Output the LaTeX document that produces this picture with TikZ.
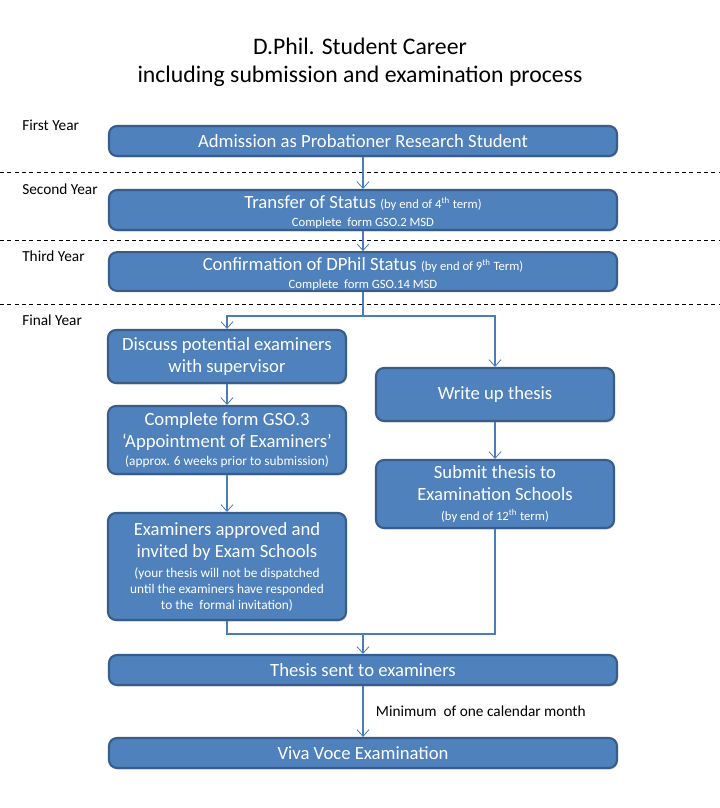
\documentclass[tikz,border=0pt]{standalone}
\usepackage{fontspec}
\setmainfont{Carlito}
\usetikzlibrary{arrows.meta,shadows}
\definecolor{boxfill}{HTML}{4F81BD}
\definecolor{boxline}{HTML}{385D8A}
\definecolor{conn}{HTML}{4A7EBB}
\tikzset{
  box/.style={draw=boxline, line width=1.6pt, fill=boxfill, rounded corners=6pt, text=white,
    align=center, inner sep=0pt, font=\fontsize{14}{17}\selectfont,
    drop shadow={shadow xshift=0.8pt, shadow yshift=-1.2pt, opacity=0.25}},
  conline/.style={draw=conn, line width=0.8pt},
  arr/.style={conline, -{Straight Barb[length=5pt,width=9pt,line width=0.6pt]}},
  yearlab/.style={anchor=north west, inner sep=0pt, font=\fontsize{11.5}{13}\selectfont},
  divider/.style={dashed, line width=0.7pt, dash pattern=on 3pt off 2.5pt},
}
\newcommand{\smalltxt}{\fontsize{9.5}{11}\selectfont}
\newcommand{\midtxt}{\fontsize{10}{12}\selectfont}
\begin{document}
\begin{tikzpicture}[x=0.75pt,y=-0.75pt]
\useasboundingbox (0,0) rectangle (720,808);
\fill[white] (0,0) rectangle (720,808);
% title
\node[font=\fontsize{17.8}{21}\selectfont, align=center] (title) at (360,62)
  {D.Phil. Student Career\\including submission and examination process};
% dividers
\draw[divider] (0,172) -- (720,172);
\draw[divider] (0,240) -- (720,240);
\draw[divider] (0,304) -- (720,304);
% year labels
\node[yearlab] (y1) at (22,120) {First Year};
\node[yearlab] (y2) at (22,184) {Second Year};
\node[yearlab] (y3) at (22,251) {Third Year};
\node[yearlab] (y4) at (22,315) {Final Year};
% boxes
\node[box, minimum width={508*0.75pt}, minimum height={30*0.75pt}] (adm) at (363,141)
  {Admission as Probationer Research Student};
\node[box, font=\fontsize{14}{16}\selectfont, minimum width={508*0.75pt}, minimum height={40*0.75pt}] (trans) at (363,210)
  {\rule{0pt}{13pt}Transfer of Status {\smalltxt (by end of 4\textsuperscript{th} term)}\\[-2pt]{\smalltxt Complete\ \ form GSO.2 MSD}};
\node[box, font=\fontsize{14}{16}\selectfont, minimum width={508*0.75pt}, minimum height={37*0.75pt}] (conf) at (363,271.5)
  {\rule{0pt}{14pt}Confirmation of DPhil Status {\smalltxt (by end of 9\textsuperscript{th} Term)}\\[-2.5pt]{\smalltxt Complete\ \ form GSO.14 MSD}};
\node[box, minimum width={238*0.75pt}, minimum height={53*0.75pt}] (disc) at (227,356.5)
  {Discuss potential examiners\\with supervisor};
\node[box, minimum width={238*0.75pt}, minimum height={68*0.75pt}] (gso3) at (227,440)
  {Complete form GSO.3\\`Appointment of Examiners'\\[-3.5pt]{\midtxt (approx. 6 weeks prior to submission)}};
\node[box, font=\fontsize{14}{16.5}\selectfont, minimum width={238*0.75pt}, minimum height={107*0.75pt}] (exam) at (227,566.5)
  {Examiners approved and\\invited by Exam Schools\\[-1.5pt]{\midtxt (your thesis will not be dispatched}\\[-4.5pt]{\midtxt until the examiners have responded}\\[-4.5pt]{\midtxt to the\ \ formal invitation)}};
\node[box, minimum width={238*0.75pt}, minimum height={53*0.75pt}] (write) at (495,394.5)
  {Write up thesis};
\node[box, font=\fontsize{14}{16.5}\selectfont, minimum width={238*0.75pt}, minimum height={68*0.75pt}] (submit) at (495,494)
  {Submit thesis to\\Examination Schools\\[-1.5pt]{\smalltxt (by end of 12\textsuperscript{th} term)}};
\node[box, minimum width={508*0.75pt}, minimum height={30*0.75pt}] (sent) at (363,670)
  {Thesis sent to examiners};
\node[box, minimum width={508*0.75pt}, minimum height={30*0.75pt}] (viva) at (363,753)
  {Viva Voce Examination};
% connectors
\draw[arr] (adm) -- (trans);
\draw[arr] (trans) -- (conf);
\draw[conline] (conf.south) -- (363,316) coordinate (split);
\draw[arr] (split) -| (disc.north);
\draw[arr] (split) -| (write.north);
\draw[arr] (disc) -- (gso3);
\draw[arr] (gso3) -- (exam);
\draw[arr] (write) -- (submit);
\coordinate (merge) at (363,634);
\draw[conline] (exam.south) |- (merge);
\draw[conline] (submit.south) |- (merge);
\draw[arr] (merge) -- (sent.north);
\draw[arr] (sent) -- node[right=6pt, font=\fontsize{11.5}{13}\selectfont, text=black] (gap) {Minimum\ \ of one calendar month} (viva);
\end{tikzpicture}
\end{document}
